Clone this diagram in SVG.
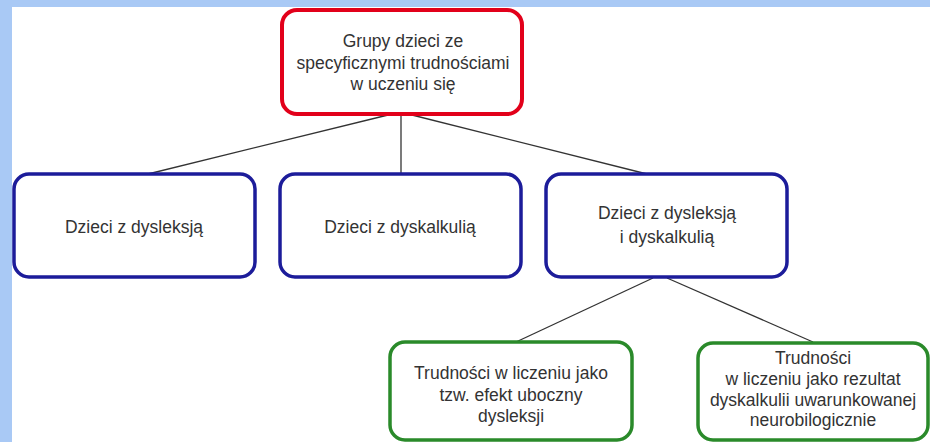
<svg xmlns="http://www.w3.org/2000/svg" width="930" height="442" viewBox="0 0 930 442">
<style>
.t{font-family:"Liberation Sans",Arial,sans-serif;font-size:17.5px;fill:#333;text-anchor:middle}
.box{fill:#fff;stroke-width:3.5}
.red{stroke:#e2001a;stroke-width:4}
.blue{stroke:#1c1c9a}
.green{stroke:#2a8a2a}
.c{stroke:#333;stroke-width:1.3;fill:none}
</style>
<rect x="0" y="0" width="930" height="442" fill="#fff"/>
<rect x="0" y="0" width="930" height="7" fill="#a9c9f5"/>
<rect x="0" y="0" width="12" height="442" fill="#a9c9f5"/>
<g id="connectors">
<line class="c" x1="388" y1="115" x2="148" y2="174"/>
<line class="c" x1="401" y1="115" x2="401" y2="174"/>
<line class="c" x1="412" y1="115" x2="647" y2="174"/>
<line class="c" x1="653" y1="278" x2="516" y2="342"/>
<line class="c" x1="667" y1="278" x2="813" y2="342"/>
</g>
<g id="root">
<rect class="box red" x="282" y="10" width="240" height="104" rx="15"/>
<text class="t" x="403" y="47">Grupy dzieci ze</text>
<text class="t" x="403" y="69">specyficznymi trudnościami</text>
<text class="t" x="403" y="90">w uczeniu się</text>
</g>
<g id="dysleksja">
<rect class="box blue" x="14" y="174" width="241" height="103" rx="15"/>
<text class="t" x="134" y="233">Dzieci z dysleksją</text>
</g>
<g id="dyskalkulia">
<rect class="box blue" x="280" y="174" width="241" height="103" rx="15"/>
<text class="t" x="400" y="233">Dzieci z dyskalkulią</text>
</g>
<g id="oba">
<rect class="box blue" x="546" y="174" width="241" height="103" rx="15"/>
<text class="t" x="667" y="219">Dzieci z dysleksją</text>
<text class="t" x="667" y="243">i dyskalkulią</text>
</g>
<g id="efekt">
<rect class="box green" x="390" y="342" width="242" height="98" rx="15"/>
<text class="t" x="511" y="379">Trudności w liczeniu jako</text>
<text class="t" x="511" y="401">tzw. efekt uboczny</text>
<text class="t" x="511" y="422">dysleksji</text>
</g>
<g id="rezultat">
<rect class="box green" x="698" y="343" width="230" height="97" rx="15"/>
<text class="t" x="813" y="364">Trudności</text>
<text class="t" x="813" y="385">w liczeniu jako rezultat</text>
<text class="t" x="813" y="406">dyskalkulii uwarunkowanej</text>
<text class="t" x="813" y="426">neurobilogicznie</text>
</g>
</svg>
